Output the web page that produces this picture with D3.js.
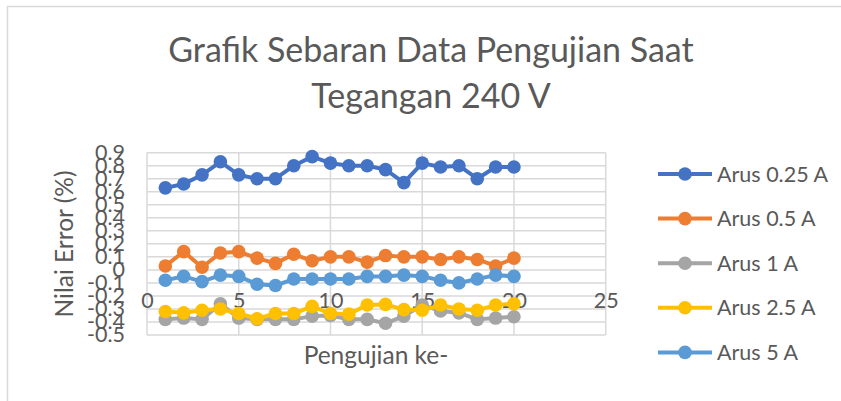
<!DOCTYPE html>
<html>
<head>
<meta charset="utf-8">
<script src="https://cdn.jsdelivr.net/npm/d3@7"></script>
<style>
  html, body { margin: 0; padding: 0; background: #ffffff; }
  svg { display: block; }
  text { font-family: Lato, "Open Sans", "Noto Sans", sans-serif; fill: #595959; }
</style>
</head>
<body>
<svg id="chart" width="841" height="401"></svg>
<script>
// Test number 1..20 for every series
const tests = d3.range(1, 21);

// Error (%) per test, one array per current level
const arus025 = [0.63, 0.66, 0.73, 0.83, 0.73, 0.70, 0.70, 0.80, 0.87, 0.82,
                 0.80, 0.80, 0.77, 0.67, 0.82, 0.79, 0.80, 0.70, 0.79, 0.79];
const arus05  = [0.03, 0.14, 0.02, 0.13, 0.14, 0.09, 0.05, 0.12, 0.07, 0.10,
                 0.10, 0.06, 0.11, 0.10, 0.10, 0.08, 0.10, 0.08, 0.03, 0.09];
const arus1   = [-0.38, -0.37, -0.38, -0.26, -0.37, -0.38, -0.38, -0.38, -0.355, -0.35,
                 -0.38, -0.38, -0.41, -0.355, -0.27, -0.315, -0.33, -0.38, -0.37, -0.36];
const arus25  = [-0.32, -0.33, -0.31, -0.30, -0.335, -0.375, -0.335, -0.335, -0.28, -0.335,
                 -0.34, -0.27, -0.265, -0.305, -0.31, -0.27, -0.30, -0.31, -0.27, -0.26];
const arus5   = [-0.08, -0.05, -0.09, -0.04, -0.05, -0.11, -0.12, -0.07, -0.07, -0.07,
                 -0.07, -0.05, -0.05, -0.04, -0.05, -0.08, -0.10, -0.07, -0.04, -0.05];

const seriesNames  = ["Arus 0.25 A", "Arus 0.5 A", "Arus 1 A", "Arus 2.5 A", "Arus 5 A"];
const seriesColors = ["#4472C4", "#ED7D31", "#A5A5A5", "#FFC000", "#5B9BD5"];
const seriesValues = [arus025, arus05, arus1, arus25, arus5];

const xTickValues = [0, 5, 10, 15, 20, 25];
const yTickValues = [-0.5, -0.4, -0.3, -0.2, -0.1, 0, 0.1, 0.2, 0.3, 0.4, 0.5, 0.6, 0.7, 0.8, 0.9];
const yTickLabels = ["-0.5", "-0.4", "-0.3", "-0.2", "-0.1", "0", "0.1", "0.2", "0.3", "0.4", "0.5", "0.6", "0.7", "0.8", "0.9"];

const titleLines = ["Grafik Sebaran Data Pengujian Saat", "Tegangan 240 V"];
const xTitle = "Pengujian ke-";
const yTitle = "Nilai Error (%)";

const svg = d3.select("#chart");
const gridColor = "#d9d9d9";

// chart area frame
svg.append("rect")
  .attr("x", 7.5).attr("y", 6.5)
  .attr("width", 900).attr("height", 500)
  .attr("fill", "#ffffff")
  .attr("stroke", gridColor).attr("stroke-width", 1.5);

const plot = { left: 147, right: 605.7, top: 152.7, bottom: 335 };

const x = d3.scaleLinear().domain([0, 25]).range([plot.left, plot.right]);
const y = d3.scaleLinear().domain([-0.5, 0.9]).range([plot.bottom, plot.top]);

// gridlines
const grid = svg.append("g");
grid.selectAll("line.h").data(yTickValues).join("line")
  .attr("x1", plot.left).attr("x2", plot.right)
  .attr("y1", d => y(d)).attr("y2", d => y(d))
  .attr("stroke", gridColor).attr("stroke-width", 1.5);
grid.selectAll("line.v").data(xTickValues).join("line")
  .attr("x1", d => x(d)).attr("x2", d => x(d))
  .attr("y1", plot.top).attr("y2", plot.bottom)
  .attr("stroke", gridColor).attr("stroke-width", 1.5);

// title
svg.append("g").selectAll("text").data(titleLines).join("text")
  .attr("x", 431)
  .attr("y", (d, i) => 62 + i * 46)
  .attr("text-anchor", "middle")
  .style("font-size", "34px")
  .text(d => d);

// y axis labels
const yAxis = d3.axisLeft(y)
  .tickValues(yTickValues)
  .tickFormat((d, i) => yTickLabels[i])
  .tickSize(0).tickPadding(22);
svg.append("g").attr("transform", `translate(${plot.left},0)`).call(yAxis)
  .call(g => g.select(".domain").remove())
  .call(g => g.selectAll("text").style("font-size", "21.5px").attr("fill", "#595959")
    .style("font-family", "Lato, 'Open Sans', sans-serif"));

// x axis labels, hung from the zero line
const xAxis = d3.axisBottom(x)
  .tickValues(xTickValues)
  .tickFormat(d3.format("d"))
  .tickSize(0).tickPadding(23);
svg.append("g").attr("transform", `translate(0,${y(0)})`).call(xAxis)
  .call(g => g.select(".domain").remove())
  .call(g => g.selectAll("text").style("font-size", "21.5px").attr("fill", "#595959")
    .style("font-family", "Lato, 'Open Sans', sans-serif"));

// axis titles
svg.append("text")
  .attr("x", 376).attr("y", 364)
  .attr("text-anchor", "middle")
  .style("font-size", "24.5px")
  .text(xTitle);
svg.append("text")
  .attr("transform", "translate(73,244) rotate(-90)")
  .attr("text-anchor", "middle")
  .style("font-size", "24.5px")
  .text(yTitle);

// series lines and markers
const line = d3.line().x((d, i) => x(tests[i])).y(d => y(d));
const seriesG = svg.append("g").selectAll("g").data(seriesValues).join("g");
seriesG.append("path")
  .attr("d", d => line(d))
  .attr("fill", "none")
  .attr("stroke", (d, i) => seriesColors[i])
  .attr("stroke-width", 4)
  .attr("stroke-linejoin", "round");
seriesG.each(function(vals, si) {
  d3.select(this).selectAll("circle").data(vals).join("circle")
    .attr("cx", (d, i) => x(tests[i]))
    .attr("cy", d => y(d))
    .attr("r", 6.8)
    .attr("fill", seriesColors[si]);
});

// legend
const legend = svg.append("g").selectAll("g").data(seriesNames).join("g")
  .attr("transform", (d, i) => `translate(658,${174 + i * 44.6})`);
legend.append("line")
  .attr("x1", 0).attr("x2", 54)
  .attr("stroke", (d, i) => seriesColors[i]).attr("stroke-width", 4);
legend.append("circle")
  .attr("cx", 27).attr("r", 6.8)
  .attr("fill", (d, i) => seriesColors[i]);
legend.append("text")
  .attr("x", 59).attr("y", 7.5)
  .style("font-size", "21.5px")
  .text(d => d);
</script>
</body>
</html>
